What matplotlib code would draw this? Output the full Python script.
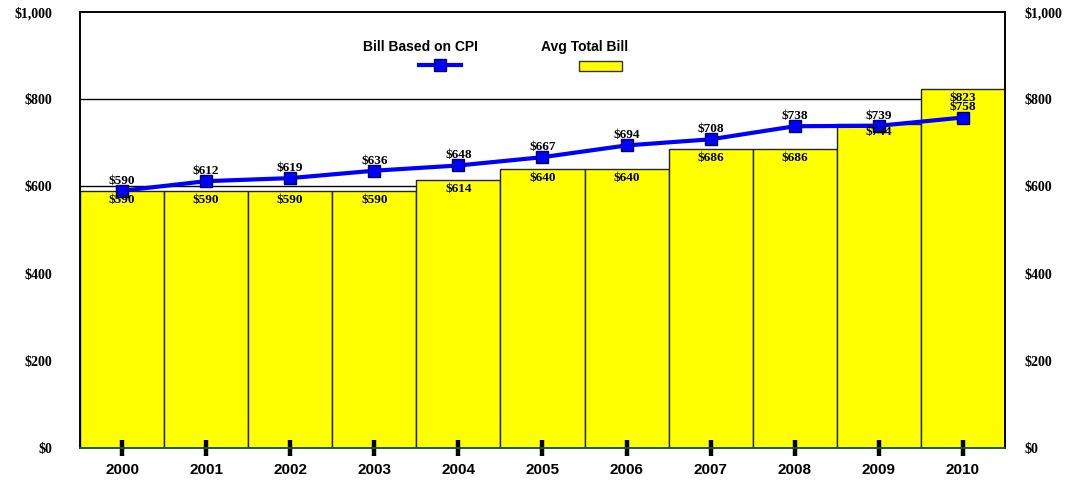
import matplotlib.pyplot as plt
from matplotlib.lines import Line2D
from matplotlib.patches import Rectangle

years = ['2000', '2001', '2002', '2003', '2004', '2005', '2006', '2007', '2008', '2009', '2010']
avg_total_bill = [590, 590, 590, 590, 614, 640, 640, 686, 686, 744, 823]
bill_cpi = [590, 612, 619, 636, 648, 667, 694, 708, 738, 739, 758]
y_ticks = [0, 200, 400, 600, 800, 1000]

serif = ['Liberation Serif', 'DejaVu Serif']
sans = ['Liberation Sans', 'DejaVu Sans']

fig = plt.figure(figsize=(10.68, 4.82), dpi=100)
ax = fig.add_axes([80 / 1068, 1 - 448 / 482, 925 / 1068, 436 / 482])

x = list(range(len(years)))
ax.bar(x, avg_total_bill, width=1.0, color='#FFFF00', edgecolor='#222222',
       linewidth=1.0, zorder=2)
ax.plot(x, bill_cpi, color='#0000FF', linewidth=3, marker='s', markersize=8,
        markerfacecolor='#0000FF', markeredgecolor='#000066', markeredgewidth=1, zorder=4)

for xi, v in zip(x, avg_total_bill):
    ax.annotate(f'${v}', (xi, v), xytext=(0, -2), textcoords='offset points',
                ha='center', va='top', fontsize=9.5, fontweight='bold', family=serif, zorder=5)
for xi, v in zip(x, bill_cpi):
    ax.annotate(f'${v}', (xi, v), xytext=(0, 3), textcoords='offset points',
                ha='center', va='bottom', fontsize=9.5, fontweight='bold', family=serif, zorder=5)

ax.set_xlim(-0.5, len(years) - 0.5)
ax.set_ylim(0, 1000)
ax.set_yticks(y_ticks)
ax.set_yticklabels([f'${v:,}' for v in y_ticks])
for yv in y_ticks[1:-1]:
    ax.axhline(yv, color='black', linewidth=1, zorder=1)
ax.tick_params(axis='y', length=0, pad=20)

# right-hand duplicate axis
ax2 = ax.twinx()
ax2.set_ylim(0, 1000)
ax2.set_yticks(y_ticks)
ax2.set_yticklabels([f'${v:,}' for v in y_ticks])
ax2.tick_params(axis='y', length=0, pad=14)

for a in (ax, ax2):
    for lab in a.get_yticklabels():
        lab.set_fontweight('bold')
        lab.set_family(serif)
        lab.set_fontsize(10)

ax.set_xticks(x)
ax.set_xticklabels(years)
ax.tick_params(axis='x', direction='inout', length=12, width=3.2, color='black', pad=5)
ax.xaxis.set_zorder(6)
for lab in ax.get_xticklabels():
    lab.set_fontweight('bold')
    lab.set_family(sans)
    lab.set_fontsize(11)
for t in ax.xaxis.get_major_ticks():
    t.tick1line.set_solid_capstyle('round')

for a in (ax, ax2):
    for s in a.spines.values():
        s.set_linewidth(1.2)
        s.set_zorder(6)
ax.spines['bottom'].set_color('#1a5a5a')
ax2.spines['bottom'].set_color('#1a5a5a')

# legend: text above, handle below
fig.text(420 / 1068, 1 - 47 / 482, 'Bill Based on CPI', ha='center', va='center',
         fontsize=10, fontweight='bold', family=sans)
fig.text(585 / 1068, 1 - 47 / 482, 'Avg Total Bill', ha='center', va='center',
         fontsize=10, fontweight='bold', family=sans)
fig.add_artist(Line2D([419 / 1068, 461 / 1068], [1 - 65 / 482, 1 - 65 / 482],
                      color='#0000FF', linewidth=3, transform=fig.transFigure))
fig.add_artist(Line2D([440 / 1068], [1 - 65 / 482], marker='s', markersize=8,
                      markerfacecolor='#0000FF', markeredgecolor='#000066',
                      transform=fig.transFigure))
fig.add_artist(Rectangle((579 / 1068, 1 - 71 / 482), 43 / 1068, 10 / 482,
                         facecolor='#FFFF00', edgecolor='#333333', linewidth=1,
                         transform=fig.transFigure))

fig.savefig('out.png', dpi=100)
